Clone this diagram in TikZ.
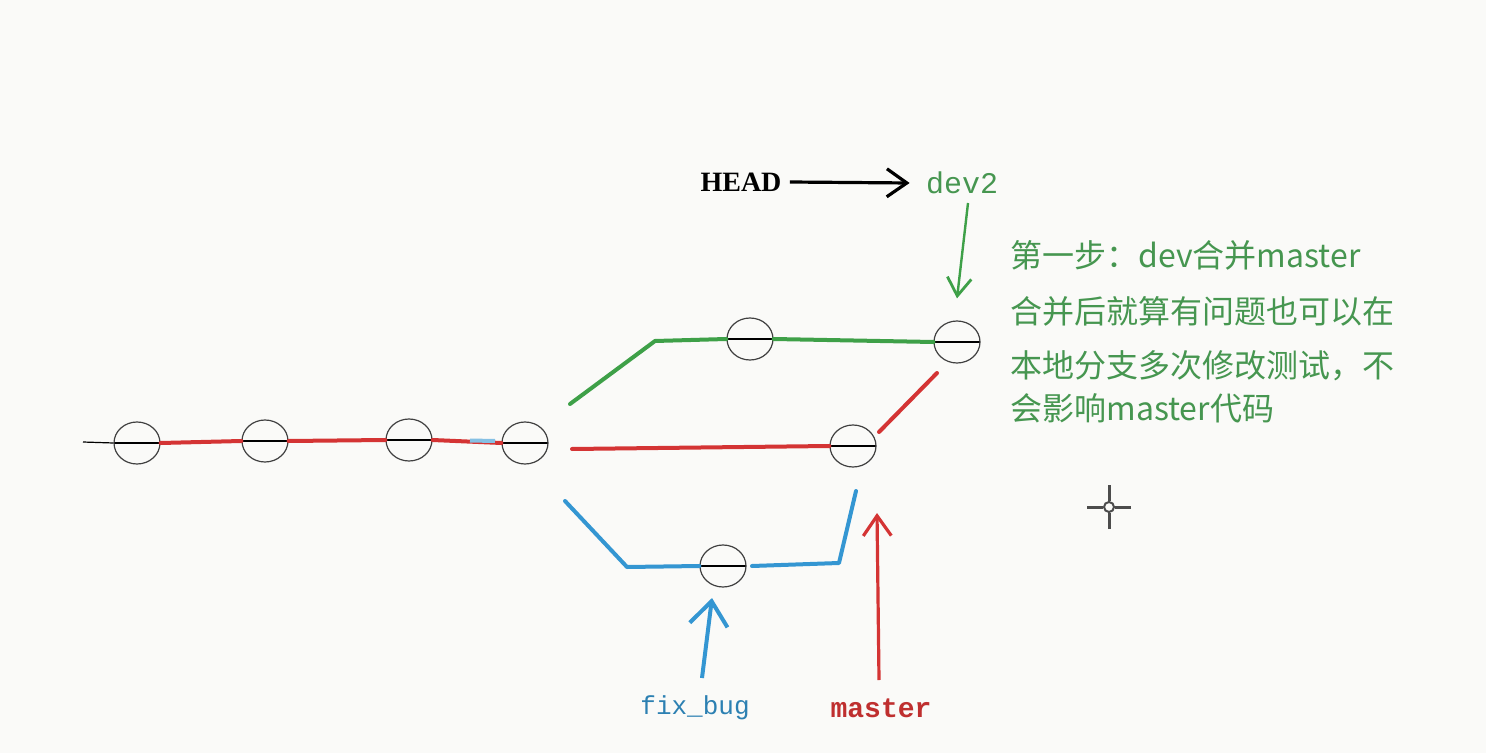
\documentclass[tikz,border=0pt]{standalone}
\usepackage{fontspec}
\setmainfont{Liberation Serif}
\setmonofont{Liberation Mono}
\newfontfamily\cjk{Noto Sans CJK SC}
\usetikzlibrary{shapes.geometric,arrows.meta}
\definecolor{gitgreen}{RGB}{62,160,72}
\definecolor{txtgreen}{RGB}{70,150,80}
\definecolor{gitred}{RGB}{212,52,52}
\definecolor{gitblue}{RGB}{52,150,210}
\definecolor{bg}{RGB}{250,250,248}
\tikzset{
  commit/.style={ellipse,draw=black!75,line width=0.6pt,minimum width=23pt,minimum height=21pt,inner sep=0pt,
    path picture={\draw[black,line width=0.7pt] (path picture bounding box.west) -- (path picture bounding box.east);}},
  branch/.style={line width=2pt,line cap=round,line join=round},
  ptr/.style={line width=1.6pt,-{Straight Barb[length=10pt,width=14pt,line width=1.6pt]}},
  cn/.style={text=txtgreen,anchor=west,font=\cjk\fontsize{16}{18}\selectfont,inner sep=0pt}
}
\begin{document}
\begin{tikzpicture}[x=0.5pt,y=-0.5pt]
\fill[bg] (0,0) rectangle (1486,753);
\useasboundingbox (0,0) rectangle (1486,753);
% main line commits
\node[commit] (c1) at (137,443) {};
\node[commit] (c2) at (265,441) {};
\node[commit] (c3) at (409,440) {};
\node[commit] (c4) at (525,443) {};
\coordinate (tail) at (83,442);
\draw[black,line width=0.6pt] (tail) -- (c1.west);
\draw[gitred,branch] (c1.east) -- (c2.west);
\draw[gitred,branch] (c2.east) -- (c3.west);
\draw[gitred,branch] (c3.east) -- (c4.west);
\draw[gitblue!60,line width=2pt] (470,440.5) -- (495,441);
% green branch
\node[commit] (g1) at (750,339) {};
\node[commit] (g2) at (957,342) {};
\coordinate (gs) at (570,404);
\coordinate (gk) at (655,341);
\draw[gitgreen,branch] (gs) -- (gk) -- (g1.west);
\draw[gitgreen,branch] (g1.east) -- (g2.west);
% red branch
\node[commit] (r1) at (853,446) {};
\coordinate (rs) at (572,449);
\draw[gitred,branch] (rs) -- (r1.west);
\coordinate (ra) at (879,432);
\coordinate (rb) at (937,373);
\draw[gitred,branch] (ra) -- (rb);
% blue branch
\node[commit] (b1) at (723,566) {};
\coordinate (bs) at (565,501);
\coordinate (bk) at (627,567);
\coordinate (bm) at (752,566);
\coordinate (bn) at (839,563);
\coordinate (be) at (856,491);
\draw[gitblue,branch] (bs) -- (bk) -- (b1.west);
\draw[gitblue,branch] (bm) -- (bn) -- (be);
% labels
\node[font=\bfseries\fontsize{14}{16}\selectfont,inner sep=1pt] (head) at (741,182) {HEAD};
\node[font=\ttfamily\fontsize{15}{17}\selectfont,text=txtgreen,inner sep=1pt] (dev2) at (962,183) {dev2};
\draw[black,ptr] (head.east) ++(6,0) coordinate (hs) (hs) -- ([xshift=-7pt]dev2.west);
\coordinate (dv) at (968,203);
\draw[gitgreen,line width=1.2pt,-{Straight Barb[length=9pt,width=12pt,line width=1.4pt]}] (dv) -- ([yshift=11pt]g2.north);
\node[font=\ttfamily\fontsize{13}{15}\selectfont,text=gitblue!85!black,inner sep=1pt] (fix) at (695,708) {fix\_bug};
\node[font=\ttfamily\bfseries\fontsize{14}{16}\selectfont,text=gitred!90!black,inner sep=1pt] (master) at (881,708) {master};
\coordinate (fb) at (702,678);
\coordinate (fbt) at (712,598);
\draw[gitblue,line width=2pt,-{Straight Barb[length=12pt,width=19pt,line width=2pt]}] (fb) -- (fbt);
\coordinate (ms) at (879,680);
\coordinate (mst) at (877,513);
\draw[gitred,ptr] (ms) -- (mst);
% note
\node[cn] (n1) at (1010,255) {第一步：dev合并master};
\node[cn] (n2) at (1010,311) {合并后就算有问题也可以在};
\node[cn] (n3) at (1010,366) {本地分支多次修改测试，不};
\node[cn] (n4) at (1010,408) {会影响master代码};
% cursor
\node[circle,draw=black!70,line width=1pt,minimum size=5pt,inner sep=0pt] (cur) at (1109,507) {};
\draw[black!70,line width=1.5pt] (1109,485) -- (cur.north) (1109,529) -- (cur.south) (1087,507) -- (cur.west) (1131,507) -- (cur.east);
\end{tikzpicture}
\end{document}
